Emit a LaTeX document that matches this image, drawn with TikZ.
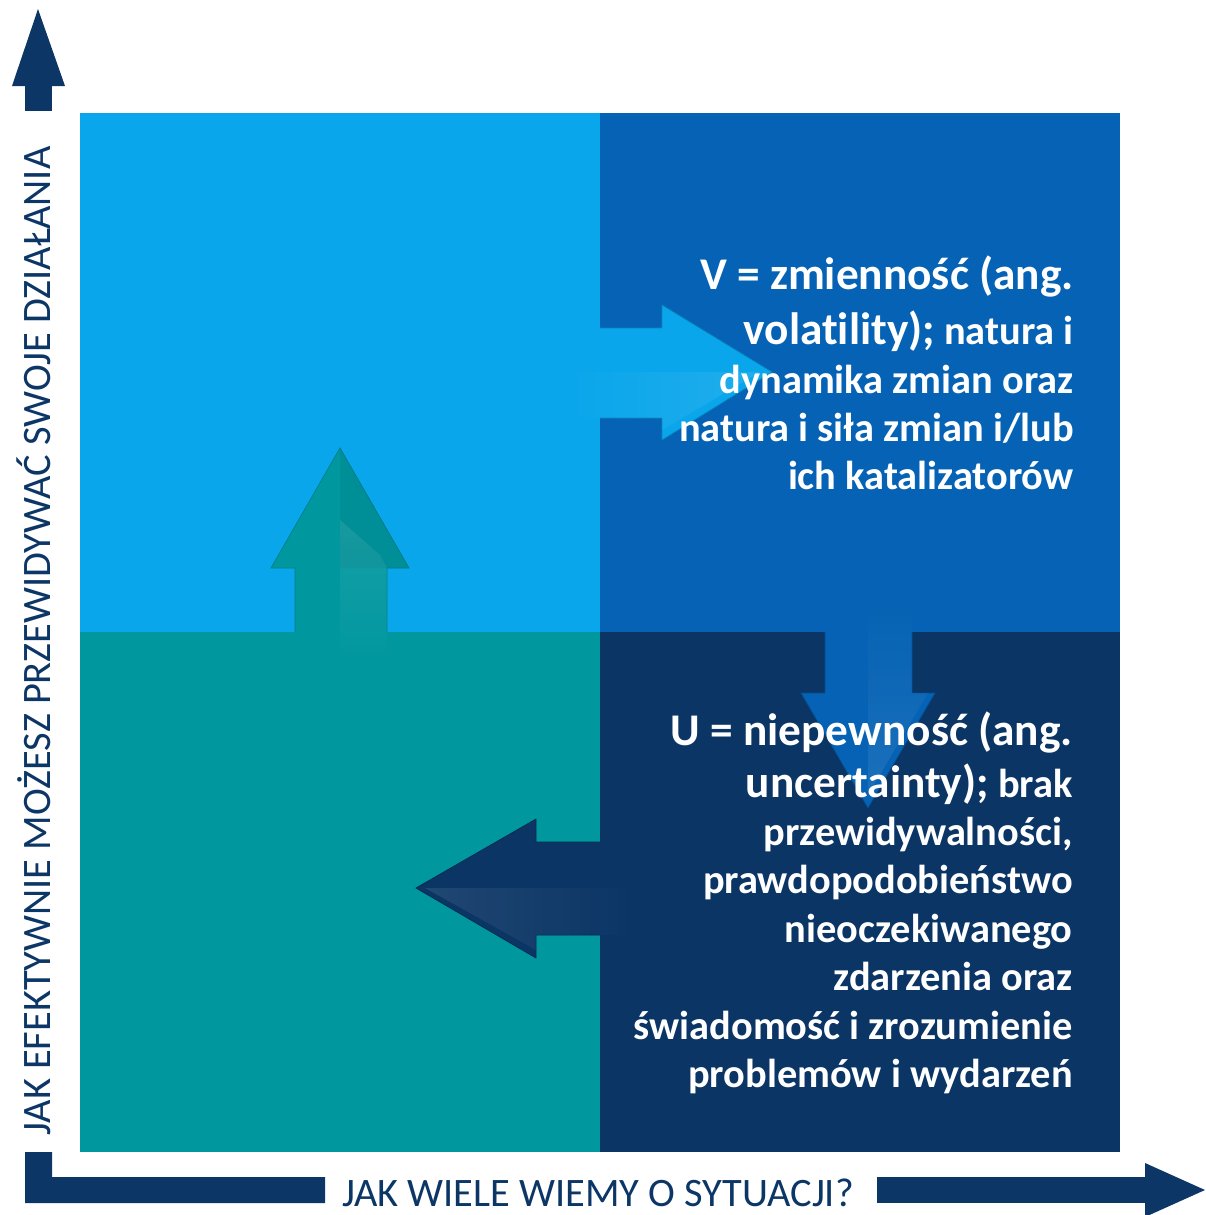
\documentclass[tikz,border=0pt]{standalone}
\usepackage{fontspec}
\setmainfont{Carlito}[RawFeature={-liga}]
\usetikzlibrary{fadings}

\definecolor{skyq}{RGB}{10,166,235}
\definecolor{blueq}{RGB}{5,98,180}
\definecolor{tealq}{RGB}{0,151,159}
\definecolor{navyq}{RGB}{11,53,101}
\definecolor{axisnavy}{RGB}{12,54,102}

\newcommand{\quadbig}[1]{{\fontsize{25.8}{27.8}\selectfont #1}}

\begin{document}
\begin{tikzpicture}[x=0.02cm, y=-0.02cm,
    quadtext/.style={anchor=north east, align=right, inner sep=0pt, text=white, font=\bfseries\fontsize{23}{27.6}\selectfont},
    axislabel/.style={text=axisnavy, font=\fontsize{23}{27}\selectfont, inner sep=0pt},
    axisbar/.style={fill=axisnavy},
    glow/.style={fill=white, fill opacity=0.09}]
    \useasboundingbox (0,0) rectangle (1205,1215);

    % Quadrants
    \fill[skyq] (80,113) rectangle (600,632);
    \fill[blueq] (600,113) rectangle (1120,632);
    \fill[tealq] (80,632) rectangle (600,1152);
    \fill[navyq] (600,632) rectangle (1120,1152);

    % Up arrow
    \fill[tealq] (295,640) -- (295,568) -- (271,568) -- (340,448) -- (409,568) -- (387,568) -- (387,640) -- cycle;
    \draw[tealq!85!black, line width=0.4pt] (295,632) -- (295,568) -- (271,568) -- (340,448) -- (409,568) -- (387,568) -- (387,632);
    \fill[black, fill opacity=0.05] (340,448) -- (409,568) -- (340,568) -- cycle;
    \fill[glow, path fading=south] (340,520) -- (380,555) -- (387,568) -- (387,665) -- (340,665) -- cycle;

    % Right arrow
    \fill[skyq] (595,328) -- (662,328) -- (662,305) -- (772,372) -- (662,440) -- (662,418) -- (595,418) -- cycle;
    \draw[skyq!80!black, line width=0.4pt] (600,328) -- (662,328) -- (662,305) -- (772,372) -- (662,440) -- (662,418) -- (600,418);
    \fill[glow, path fading=west] (565,372) -- (760,372) -- (662,430) -- (662,418) -- (565,418) -- cycle;

    % Down arrow
    \fill[blueq] (825,625) -- (825,693) -- (801,693) -- (868,808) -- (935,693) -- (912,693) -- (912,625) -- cycle;
    \draw[blueq!80!black, line width=0.4pt] (825,632) -- (825,693) -- (801,693) -- (868,808) -- (935,693) -- (912,693) -- (912,632);
    \fill[glow, path fading=north] (868,595) -- (912,595) -- (912,693) -- (928,693) -- (868,795) -- cycle;

    % Left arrow
    \fill[navyq] (605,842) -- (536,842) -- (536,819) -- (416,888) -- (536,958) -- (536,935) -- (605,935) -- cycle;
    \draw[navyq!80!black, line width=0.4pt] (600,842) -- (536,842) -- (536,819) -- (416,888) -- (536,958) -- (536,935) -- (600,935);
    \fill[glow, path fading=east] (425,888) -- (640,888) -- (640,935) -- (536,935) -- (536,950) -- cycle;

    % Quadrant texts
    \node[quadtext] (vtext) at (1074,255) {\quadbig{V = zmienność (ang.}\\[4pt]
        \quadbig{volatility);} natura i\\
        dynamika zmian oraz\\
        natura i siła zmian i/lub\\
        ich katalizatorów};
    \node[quadtext] (utext) at (1073,711) {\quadbig{U = niepewność (ang.}\\[2pt]
        \quadbig{uncertainty);} brak\\
        przewidywalności,\\
        prawdopodobieństwo\\
        nieoczekiwanego\\
        zdarzenia oraz\\
        świadomość i zrozumienie\\
        problemów i wydarzeń};

    % Axes
    \fill[axisbar] (25,111) rectangle (52,86);
    \fill[axisbar] (12,86) -- (38,9) -- (65,86) -- cycle;
    \fill[axisbar] (25,1152) -- (52,1152) -- (52,1177) -- (325,1177) -- (325,1203) -- (25,1203) -- cycle;
    \fill[axisbar] (877,1177) rectangle (1145,1203);
    \fill[axisbar] (1145,1163) -- (1205,1190) -- (1145,1217) -- cycle;

    % Axis labels
    \node[axislabel, anchor=base] (xlabel) at (598,1206) {JAK WIELE WIEMY O SYTUACJI?};
    \node[axislabel, anchor=base, rotate=90] (ylabel) at (51,641) {JAK EFEKTYWNIE MOŻESZ PRZEWIDYWAĆ SWOJE DZIAŁANIA};
\end{tikzpicture}
\end{document}
